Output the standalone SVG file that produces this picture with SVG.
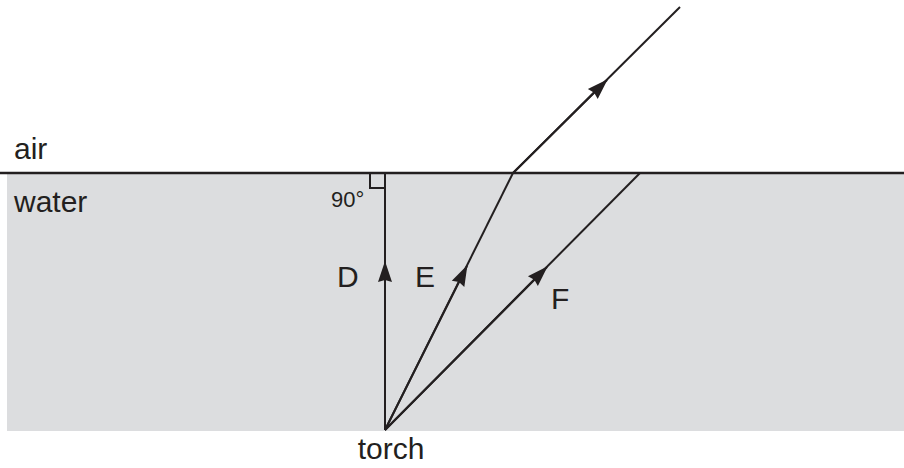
<svg xmlns="http://www.w3.org/2000/svg" width="904" height="468" viewBox="0 0 904 468">
<style>
.ray{stroke:#231f20;stroke-width:2;fill:none}
.lbl{font-family:"Liberation Sans",Arial,sans-serif;font-size:30px;fill:#231f20}
</style>
<defs>
<marker id="ah" markerWidth="22" markerHeight="16" refX="20" refY="8" orient="auto" markerUnits="userSpaceOnUse" overflow="visible">
<path d="M0,1 L21,8 L0,15 L2,8 Z" fill="#231f20"/>
</marker>
</defs>
<rect id="water" x="7" y="173" width="897" height="258" fill="#dcdddf"/>
<line id="surface" x1="0" y1="173" x2="904" y2="173" stroke="#231f20" stroke-width="2.5"/>
<g id="connectors">
<path class="ray" d="M385,430 L385,173"/>
<path class="ray" d="M385,430 L385,262" marker-end="url(#ah)"/>
<path class="ray" d="M385,430 L513,173"/>
<path class="ray" d="M385,430 L467,266" marker-end="url(#ah)"/>
<path class="ray" d="M385,430 L640,173"/>
<path class="ray" d="M385,430 L547,267" marker-end="url(#ah)"/>
<path class="ray" d="M513,173 L680,7"/>
<path class="ray" d="M513,173 L607,80" marker-end="url(#ah)"/>
<path class="ray" d="M370,173 L370,188 L385,188" stroke-width="1.8"/>
</g>
<g id="air"><text class="lbl" x="14" y="159">air</text></g>
<g id="water-label"><text class="lbl" x="14" y="212">water</text></g>
<g id="angle"><text class="lbl" x="331" y="207" style="font-size:22px">90°</text></g>
<g id="D"><text class="lbl" x="337" y="287">D</text></g>
<g id="E"><text class="lbl" x="415" y="287">E</text></g>
<g id="F"><text class="lbl" x="551" y="309">F</text></g>
<g id="torch"><text class="lbl" x="391" y="459" text-anchor="middle">torch</text></g>
</svg>
